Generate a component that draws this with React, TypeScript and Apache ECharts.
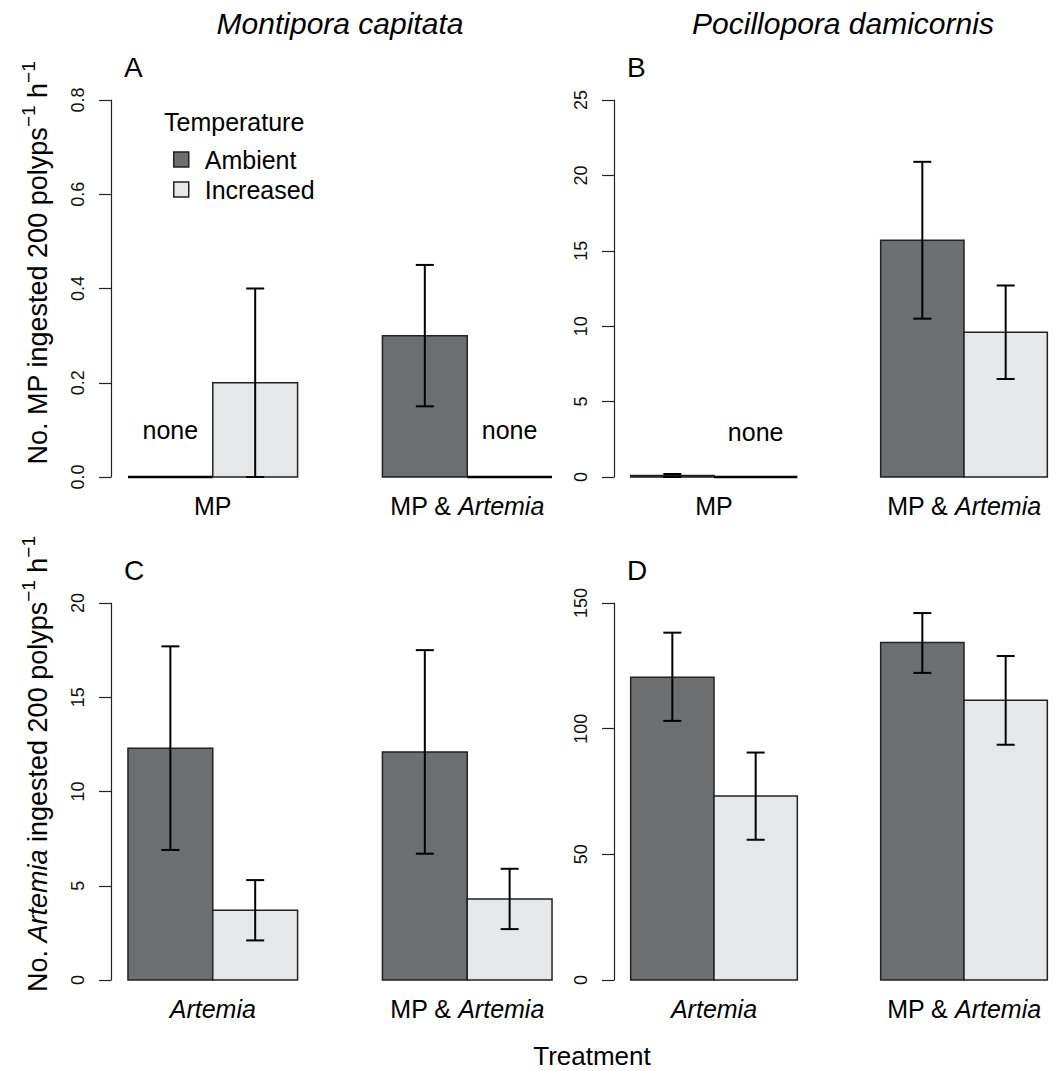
import React, { useEffect, useRef } from 'react';
import * as echarts from 'echarts';

// ---------- data ----------
const speciesTitles = ['Montipora capitata', 'Pocillopora damicornis'];
const panelLetters = ['A', 'B', 'C', 'D'];
const topCategories = ['MP', 'MP & Artemia'];
const bottomCategories = ['Artemia', 'MP & Artemia'];
const temperatures = ['Ambient', 'Increased'];

// Panel A: Montipora capitata, MP ingested
const aAmbient = [0, 0.30];
const aAmbientLo = [null, 0.15];
const aAmbientHi = [null, 0.45];
const aIncreased = [0.20, 0];
const aIncreasedLo = [0.0, null];
const aIncreasedHi = [0.40, null];

// Panel B: Pocillopora damicornis, MP ingested
const bAmbient = [0.1, 15.7];
const bAmbientLo = [0.0, 10.5];
const bAmbientHi = [0.2, 20.9];
const bIncreased = [0, 9.6];
const bIncreasedLo = [null, 6.5];
const bIncreasedHi = [null, 12.7];

// Panel C: Montipora capitata, Artemia ingested
const cAmbient = [12.3, 12.1];
const cAmbientLo = [6.9, 6.7];
const cAmbientHi = [17.7, 17.5];
const cIncreased = [3.7, 4.3];
const cIncreasedLo = [2.1, 2.7];
const cIncreasedHi = [5.3, 5.9];

// Panel D: Pocillopora damicornis, Artemia ingested
const dAmbient = [120.5, 134.3];
const dAmbientLo = [103.1, 122.2];
const dAmbientHi = [138.2, 146.0];
const dIncreased = [73.2, 111.3];
const dIncreasedLo = [55.8, 93.6];
const dIncreasedHi = [90.5, 128.9];

const yMax = [0.8, 25, 20, 150];
const yStep = [0.2, 5, 5, 50];
const noneLevel = [0.1, 3, null, null];

const yTitleTop = 'No. MP ingested 200 polyps';
const yTitleBottom = 'Artemia';
const xTitle = 'Treatment';
const legendTitle = 'Temperature';

// ---------- styling ----------
const FONT = '"Liberation Sans", Arial, Helvetica, sans-serif';
const AMBIENT = '#6d6e70';
const INCREASED = '#e6e7e8';
const BORDER = '#222';
const tempColors = [AMBIENT, INCREASED];

const panels = [
  { vals: [aAmbient, aIncreased], lo: [aAmbientLo, aIncreasedLo], hi: [aAmbientHi, aIncreasedHi], cats: topCategories },
  { vals: [bAmbient, bIncreased], lo: [bAmbientLo, bIncreasedLo], hi: [bAmbientHi, bIncreasedHi], cats: topCategories },
  { vals: [cAmbient, cIncreased], lo: [cAmbientLo, cIncreasedLo], hi: [cAmbientHi, cIncreasedHi], cats: bottomCategories },
  { vals: [dAmbient, dIncreased], lo: [dAmbientLo, dIncreasedLo], hi: [dAmbientHi, dIncreasedHi], cats: bottomCategories },
];

const gridPos = [
  { left: 111, top: 100 },
  { left: 614, top: 100 },
  { left: 111, top: 603 },
  { left: 614, top: 603 },
];

const italicize = (s: string) => s.replace('Artemia', '{it|Artemia}');

function buildOption() {
  const grid = gridPos.map((g) => ({ left: g.left, top: g.top, width: 458, height: 377, containLabel: false }));

  const xAxis = panels.map((p, i) => ({
    type: 'value',
    gridIndex: i,
    min: 0.8,
    max: 6.2,
    axisLine: { show: false },
    axisTick: { show: false },
    splitLine: { show: false },
    axisLabel: {
      customValues: [2, 5],
      margin: 16,
      fontSize: 25,
      fontFamily: FONT,
      color: '#000',
      formatter: (v: number) => (Math.abs(v - 2) < 1e-6 ? italicize(p.cats[0]) : Math.abs(v - 5) < 1e-6 ? italicize(p.cats[1]) : ''),
      rich: {
        it: { fontStyle: 'italic', fontSize: 25, fontFamily: FONT, color: '#000' },
      },
    },
  }));

  const yAxis = panels.map((p, i) => ({
    type: 'value',
    gridIndex: i,
    min: 0,
    max: yMax[i],
    interval: yStep[i],
    splitLine: { show: false },
    axisLine: { show: true, lineStyle: { color: '#222', width: 1.2 } },
    axisTick: { show: true, length: 12, lineStyle: { color: '#222', width: 1.2 } },
    axisLabel: {
      rotate: 90,
      margin: 24,
      fontSize: 18,
      fontFamily: FONT,
      color: '#111',
      formatter: (v: number) => (i === 0 ? v.toFixed(1) : String(v)),
    },
  }));

  const series: any[] = [];
  panels.forEach((p, pi) => {
    temperatures.forEach((tName, t) => {
      const values = p.vals[t];
      const los = p.lo[t];
      const his = p.hi[t];
      series.push({
        type: 'custom',
        name: tName,
        xAxisIndex: pi,
        yAxisIndex: pi,
        data: values.map((v, g) => [1 + 3 * g + t + 0.5, v]),
        encode: { x: 0, y: 1 },
        renderItem: (params: any, api: any) => {
          const i = params.dataIndex;
          const xc = api.value(0);
          const v = api.value(1);
          const pL = api.coord([xc - 0.5, 0]);
          const pR = api.coord([xc + 0.5, v]);
          const children: any[] = [];
          const h = pL[1] - pR[1];
          if (h > 0.5) {
            children.push({
              type: 'rect',
              shape: { x: pL[0], y: pR[1], width: pR[0] - pL[0], height: h },
              style: { fill: tempColors[t], stroke: BORDER, lineWidth: 1.5 },
            });
          } else {
            children.push({
              type: 'line',
              shape: { x1: pL[0], y1: pL[1], x2: pR[0], y2: pL[1] },
              style: { stroke: '#000', lineWidth: 2.5 },
            });
          }
          if (v === 0 && noneLevel[pi] != null) {
            const c = api.coord([xc, noneLevel[pi]]);
            children.push({
              type: 'text',
              x: c[0],
              y: c[1],
              style: { text: 'none', fontSize: 25, fontFamily: FONT, fill: '#000', align: 'center', verticalAlign: 'middle' },
            });
          }
          const lo = los[i];
          const hi = his[i];
          if (lo != null && hi != null) {
            const a = api.coord([xc, lo]);
            const b = api.coord([xc, hi]);
            const cap = 9;
            const ls = { stroke: '#000', lineWidth: 2 };
            children.push({ type: 'line', shape: { x1: a[0], y1: a[1], x2: b[0], y2: b[1] }, style: ls });
            children.push({ type: 'line', shape: { x1: a[0] - cap, y1: a[1], x2: a[0] + cap, y2: a[1] }, style: ls });
            children.push({ type: 'line', shape: { x1: b[0] - cap, y1: b[1], x2: b[0] + cap, y2: b[1] }, style: ls });
          }
          return { type: 'group', children };
        },
      });
    });
  });

  const txt = (x: number, y: number, text: string, extra: any = {}, rotation = 0) => ({
    type: 'text',
    x,
    y,
    rotation,
    style: {
      text,
      fontSize: 25,
      fontFamily: FONT,
      fill: '#000',
      align: 'center',
      verticalAlign: 'middle',
      ...extra,
    },
  });

  const supRich = {
    n: { fontSize: 27, fontFamily: FONT, fill: '#000', lineHeight: 33, verticalAlign: 'bottom' },
    ni: { fontSize: 27, fontFamily: FONT, fontStyle: 'italic', fill: '#000', lineHeight: 33, verticalAlign: 'bottom' },
    s: { fontSize: 19, fontFamily: FONT, fill: '#000', lineHeight: 19, verticalAlign: 'top' },
  };

  const graphic = [
    txt(340, 23, speciesTitles[0], { fontSize: 30, fontStyle: 'italic' }),
    txt(843, 23, speciesTitles[1], { fontSize: 30, fontStyle: 'italic' }),
    txt(124, 67, panelLetters[0], { align: 'left', fontSize: 28 }),
    txt(627, 67, panelLetters[1], { align: 'left', fontSize: 28 }),
    txt(124, 570, panelLetters[2], { align: 'left', fontSize: 28 }),
    txt(627, 570, panelLetters[3], { align: 'left', fontSize: 28 }),
    txt(164, 122, legendTitle, { align: 'left' }),
    txt(592, 1056, xTitle, { fontSize: 26 }),
    txt(35, 263, '{n|' + yTitleTop + '}{s|\u22121}{n| h}{s|\u22121}', { rich: supRich }, Math.PI / 2),
    txt(35, 764, '{n|No. }{ni|' + yTitleBottom + '}{n| ingested 200 polyps}{s|\u22121}{n| h}{s|\u22121}', { rich: supRich }, Math.PI / 2),
  ];

  return {
    animation: false,
    backgroundColor: '#fff',
    grid,
    xAxis,
    yAxis,
    series,
    graphic,
    legend: {
      data: [
        { name: 'Ambient', icon: 'rect', itemStyle: { color: AMBIENT, borderColor: BORDER, borderWidth: 1.5 } },
        { name: 'Increased', icon: 'rect', itemStyle: { color: INCREASED, borderColor: BORDER, borderWidth: 1.5 } },
      ],
      orient: 'vertical',
      left: 168,
      top: 142,
      itemWidth: 15,
      itemHeight: 15,
      itemGap: 5,
      selectedMode: false,
      textStyle: { fontSize: 25, fontFamily: FONT, color: '#000', padding: [0, 0, 0, 11] },
    },
  };
}

export default function App() {
  const ref = useRef<HTMLDivElement>(null);
  useEffect(() => {
    if (!ref.current) return;
    const chart = echarts.init(ref.current, undefined, { renderer: 'svg' });
    chart.setOption(buildOption() as any);
    return () => chart.dispose();
  }, []);
  return (
    <div
      ref={ref}
      style={{ position: 'absolute', left: 0, top: 0, width: 1064, height: 1071, background: '#fff' }}
    />
  );
}
